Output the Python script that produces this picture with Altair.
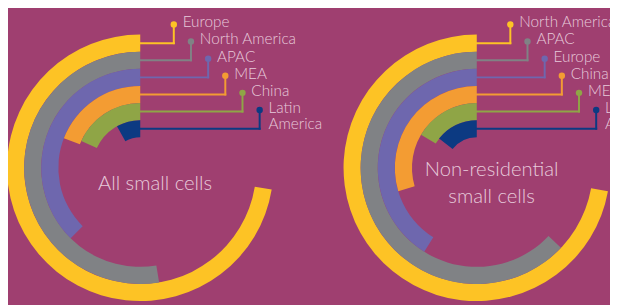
import math
import altair as alt
import pandas as pd

# ---------------- data ----------------
panels = ["All small cells", "Non-residential small cells"]
title_lines = [["All small cells"], ["Non-residential", "small cells"]]
regions = [
    ["Europe", "North America", "APAC", "MEA", "China", "Latin\nAmerica"],
    ["North America", "APAC", "Europe", "China", "MEA", "Latin\nAmerica"],
]
# share of a full circle (%) swept by each ring, outer ring first
shares = [
    [72.4, 52.6, 37.6, 19.1, 18.2, 8.1],
    [72.2, 62.9, 41.1, 29.6, 16.5, 14.5],
]
ring_colors = ["#FDC325", "#808285", "#6E67AE", "#F39C33", "#8FA546", "#0C3A82"]
bg_color = "#9F3F70"
text_color = "#E7CADB"

# ---------------- layout ----------------
W, H = 610, 297
CX = [134, 475]
CY = 160
R_OUT, R_IN = 135, 31
N = 6
BAND = (R_OUT - R_IN) / N

rows = []
for p in range(len(panels)):
    for k in range(N):
        rows.append(dict(panel=p, ring=k, region=regions[p][k], share=shares[p][k]))
df = pd.DataFrame(rows)

trows = []
for p in range(len(panels)):
    for i, t in enumerate(title_lines[p]):
        trows.append(dict(panel=p, line=i, n=len(title_lines[p]), text=t))
tdf = pd.DataFrame(trows)

xs = alt.Scale(domain=[0, W], range=[0, W], nice=False, zero=False)
ys = alt.Scale(domain=[0, H], range=[0, H], nice=False, zero=False)
col = alt.Color("ring:N", scale=alt.Scale(domain=list(range(N)), range=ring_colors), legend=None)

base = alt.Chart(df).transform_calculate(
    cx=f"{CX[0]} + datum.panel*{CX[1] - CX[0]}",
    cy=f"{CY}",
    start="360 - 3.6*datum.share",
    end="360",
    ring2="datum.ring + 1",
    ly=f"{CY} - ({R_OUT} - {BAND}*(datum.ring + 0.5))",
    lx="datum.cx + 34 + 17.4*datum.ring",
    doty="datum.ly - 19",
    tx="datum.lx + 9",
    ty="datum.doty - 9",
)

arcs = base.mark_arc().encode(
    x=alt.X("cx:Q", scale=xs, axis=None),
    y=alt.Y("cy:Q", scale=ys, axis=None),
    theta=alt.Theta("start:Q", scale=alt.Scale(domain=[0, 360], range=[0, 2 * math.pi]), stack=False),
    theta2="end:Q",
    radius=alt.Radius("ring:Q", scale=alt.Scale(type="linear", domain=[0, N], range=[R_OUT, R_IN], zero=False)),
    radius2="ring2:Q",
    color=col,
)

hrules = base.mark_rule(strokeWidth=2, strokeCap="square").encode(
    x=alt.X("cx:Q", scale=xs, axis=None), x2="lx:Q",
    y=alt.Y("ly:Q", scale=ys, axis=None), color=col,
)
vrules = base.mark_rule(strokeWidth=2, strokeCap="square").encode(
    x=alt.X("lx:Q", scale=xs, axis=None),
    y=alt.Y("ly:Q", scale=ys, axis=None), y2="doty:Q", color=col,
)
dots = base.mark_circle(size=42, opacity=1).encode(
    x=alt.X("lx:Q", scale=xs, axis=None),
    y=alt.Y("doty:Q", scale=ys, axis=None), color=col,
)
labels = base.mark_text(
    align="left", baseline="top", font="Lato", fontWeight=300, fontSize=15.5,
    lineBreak="\n", lineHeight=16, color=text_color,
).encode(
    x=alt.X("tx:Q", scale=xs, axis=None),
    y=alt.Y("ty:Q", scale=ys, axis=None),
    text="region:N",
)

titles = alt.Chart(tdf).transform_calculate(
    tx=f"{CX[0]} + datum.panel*{CX[1] - CX[0]} + 15",
    ty=f"{CY} + 22 - 13.5*(datum.n - 1) + 27*datum.line",
).mark_text(
    align="center", baseline="alphabetic", font="Lato", fontWeight=300, fontSize=20.5, color=text_color,
).encode(
    x=alt.X("tx:Q", scale=xs, axis=None),
    y=alt.Y("ty:Q", scale=ys, axis=None),
    text="text:N",
)

chart = alt.layer(arcs, hrules, vrules, dots, labels, titles).properties(
    width=W, height=H, background=bg_color, padding=0,
    autosize=alt.AutoSizeParams(type="none"),
).configure_view(stroke=None)

chart.save("out.html", embed_options={"renderer": "svg", "actions": False})
